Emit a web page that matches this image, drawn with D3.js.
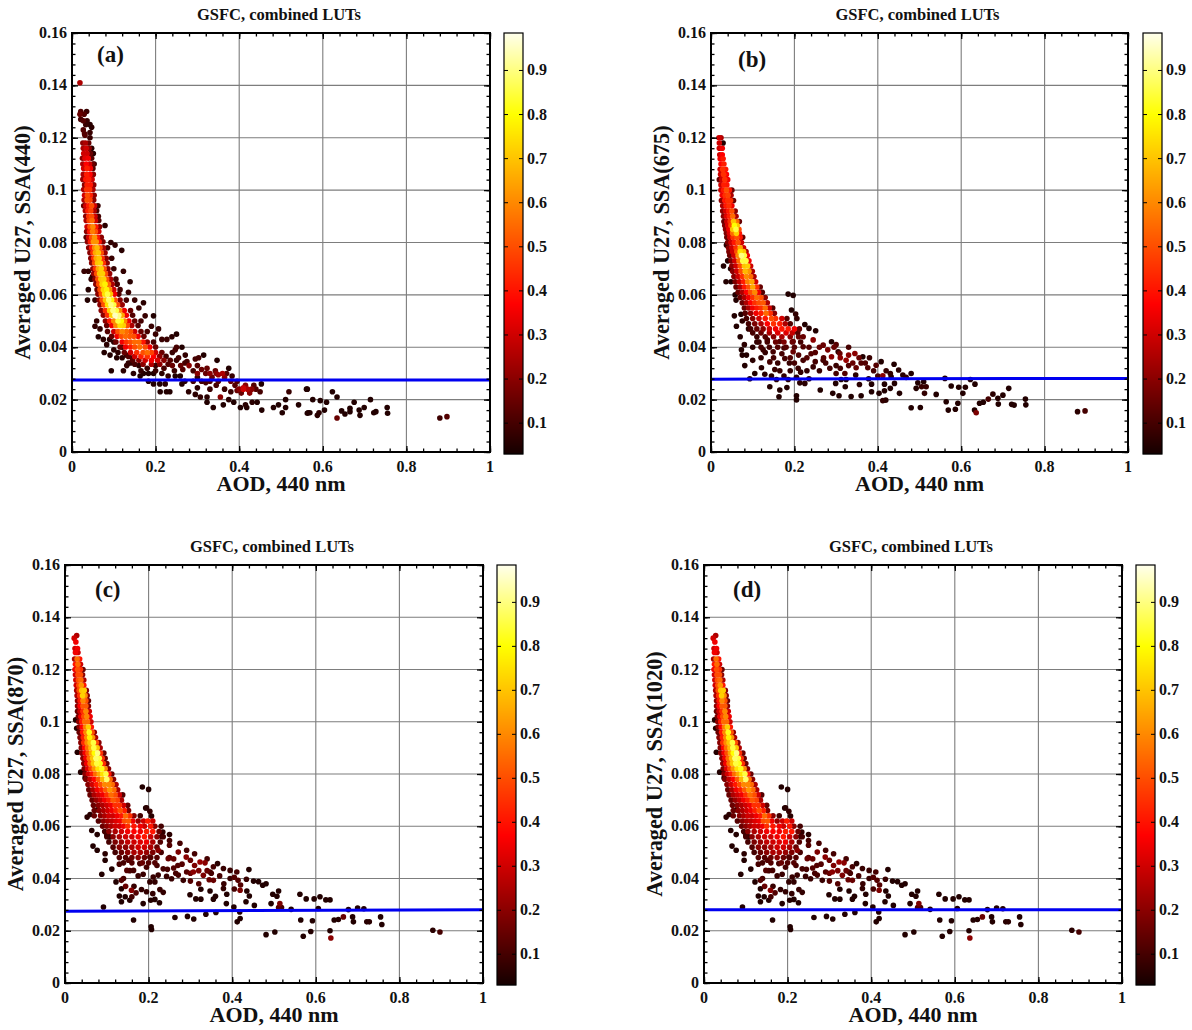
<!DOCTYPE html>
<html><head><meta charset="utf-8">
<script src="https://cdnjs.cloudflare.com/ajax/libs/d3/7.8.5/d3.min.js"></script>
<style>html,body{margin:0;background:#fff}svg{display:block}text{font-family:"Liberation Serif","Times New Roman",serif;font-weight:bold;fill:#111}</style>
</head><body><svg id="c" width="1192" height="1030"><defs><filter id="soft" x="-5%" y="-5%" width="110%" height="110%"><feGaussianBlur stdDeviation="0.45"/></filter></defs></svg>
<script>
const xTicks=[0,.2,.4,.6,.8,1];
const yTicks=[0,.02,.04,.06,.08,.1,.12,.14,.16];
const barTicks=[.1,.2,.3,.4,.5,.6,.7,.8,.9];
const titles=["GSFC, combined LUTs","GSFC, combined LUTs","GSFC, combined LUTs","GSFC, combined LUTs"];
const tags=["(a)","(b)","(c)","(d)"];
const yLabels=["Averaged U27, SSA(440)","Averaged U27, SSA(675)","Averaged U27, SSA(870)","Averaged U27, SSA(1020)"];
const xLabel="AOD, 440 nm";
const blueLineA=[.0275,.0275],blueLineB=[.0278,.0281],blueLineC=[.0275,.028],blueLineD=[.028,.028];

// [AOD, averaged U27, normalised density]
const pointsA=[
[.019,.141,.25],[.021,.13,.12],[.035,.13,.08],[.019,.129,.15],[.029,.129,.12],[.021,.127,.1],[.043,.125,.06],[.033,.125,.08],[.027,.123,.12],[.047,.124,.06],[.043,.122,.08],[.031,.121,.12],[.043,.12,.08],[.047,.116,.06],[.051,.114,.06],[.053,.11,.08],
[.026,.118,.2],[.032,.118,.25],[.04,.118,.15],[.028,.114,.3],[.036,.114,.3],[.044,.114,.15],[.026,.11,.25],[.034,.11,.38],[.042,.11,.3],[.05,.11,.15],[.027,.106,.25],[.035,.106,.42],[.043,.106,.38],[.051,.106,.2],[.03,.102,.2],[.036,.102,.42],[.044,.102,.4],[.052,.102,.2],[.03,.098,.3],[.037,.098,.5],[.044,.098,.42],[.053,.098,.2],[.028,.094,.15],[.033,.094,.3],[.04,.094,.42],[.047,.094,.5],[.054,.094,.3],[.062,.094,.08],[.033,.09,.2],[.04,.09,.45],[.047,.09,.5],[.055,.09,.3],[.063,.09,.1],[.036,.086,.3],[.043,.086,.5],[.05,.086,.6],[.057,.086,.4],[.066,.086,.2],[.079,.0865,.06],[.034,.082,.12],[.04,.082,.3],[.047,.082,.5],[.054,.082,.62],[.061,.082,.4],[.07,.082,.2],[.04,.078,.2],[.047,.078,.4],[.054,.078,.6],[.06,.078,.68],[.067,.078,.5],[.075,.078,.25],[.085,.078,.1],[.045,.074,.2],[.052,.074,.45],[.058,.074,.65],[.065,.074,.7],[.072,.074,.45],[.082,.074,.2],[.095,.074,.08],[.05,.07,.2],[.056,.07,.45],[.063,.07,.65],[.07,.07,.72],[.077,.07,.5],[.086,.07,.2],[.1,.07,.08],[.055,.066,.2],[.062,.066,.5],[.069,.066,.7],[.076,.066,.72],[.083,.066,.5],[.092,.066,.25],[.105,.066,.1],[.06,.062,.15],[.067,.062,.5],[.075,.062,.72],[.083,.062,.78],[.09,.062,.6],[.1,.062,.3],[.115,.062,.1],[.065,.058,.2],[.072,.058,.5],[.08,.058,.7],[.088,.058,.88],[.095,.058,.78],[.103,.058,.5],[.115,.058,.2],[.13,.058,.1],[.07,.054,.2],[.08,.054,.45],[.09,.054,.72],[.098,.054,.9],[.106,.054,.85],[.114,.054,.6],[.125,.054,.35],[.14,.054,.15],[.08,.05,.2],[.09,.05,.4],[.1,.05,.6],[.11,.05,.85],[.118,.05,.8],[.126,.05,.6],[.136,.05,.35],[.15,.05,.15],[.165,.05,.1],[.085,.046,.12],[.1,.046,.3],[.11,.046,.5],[.12,.046,.6],[.13,.046,.55],[.14,.046,.5],[.15,.046,.3],[.165,.046,.15],[.18,.046,.1],[.105,.042,.15],[.12,.042,.35],[.13,.042,.45],[.14,.042,.5],[.15,.042,.55],[.16,.042,.55],[.17,.042,.4],[.18,.042,.2],[.195,.042,.1],[.125,.038,.15],[.14,.038,.3],[.155,.038,.45],[.17,.038,.5],[.18,.038,.55],[.19,.038,.48],[.2,.038,.3],[.215,.038,.15],[.145,.035,.12],[.16,.035,.2],[.175,.035,.3],[.19,.035,.35],[.205,.035,.3],[.22,.035,.2],[.235,.035,.12],[.25,.035,.08],
[.24,.033,.15],[.26,.033,.15],[.28,.033,.2],[.3,.033,.12],[.29,.031,.1],[.3,.03,.2],[.32,.03,.15],[.33,.03,.2],[.345,.03,.2],[.36,.03,.25],[.37,.03,.12],[.29,.027,.1],[.31,.027,.1],[.33,.027,.12],[.35,.027,.12],[.38,.027,.15],[.395,.027,.12],[.4,.024,.2],[.41,.024,.3],[.42,.024,.25],[.43,.024,.2],[.415,.0255,.2],[.405,.0225,.15],[.44,.024,.12],[.45,.023,.1],[.25,.04,.1],[.27,.034,.1],[.22,.032,.1],[.2,.033,.08],[.16,.033,.06],[.12,.04,.06],[.1,.042,.06],[.11,.038,.06],
[.029,.069,.08],[.039,.069,.07],[.049,.067,.07],[.046,.066,.07],[.039,.062,.05],[.037,.058,.05],[.055,.058,.07],[.059,.05,.07],[.055,.048,.07],[.067,.047,.07],[.063,.044,.05],[.075,.043,.06],[.083,.041,.06],[.077,.038,.05],[.091,.037,.05],[.107,.036,.05],[.094,.031,.05],[.123,.031,.06],[.131,.033,.07],[.135,.034,.07],[.147,.03,.06],[.163,.029,.05],[.171,.03,.05],[.183,.03,.05],[.195,.03,.05],[.183,.027,.05],[.195,.026,.05],[.21,.026,.05],[.211,.023,.05],[.226,.023,.05],[.234,.023,.05],[.223,.026,.06],[.247,.029,.05],[.259,.029,.05],[.263,.026,.05],[.279,.023,.06],[.295,.022,.06],[.307,.021,.07],[.323,.021,.06],[.323,.019,.05],[.338,.017,.05],[.362,.018,.05],[.355,.021,.2],[.375,.02,.06],[.387,.019,.05],[.403,.017,.05],[.418,.017,.05],[.415,.018,.06],[.431,.019,.06],[.443,.019,.05],[.454,.016,.05],[.453,.026,.05],[.482,.017,.05],[.503,.015,.05],[.494,.018,.05],[.511,.017,.05],[.511,.02,.05],[.519,.023,.08],[.542,.018,.05],[.563,.024,.05],[.565,.015,.05],
[.119,.077,.06],[.103,.079,.07],[.093,.08,.07],[.123,.069,.07],[.139,.065,.06],[.171,.057,.06],[.195,.052,.05],[.207,.047,.08],[.227,.043,.08],[.25,.045,.05],[.239,.044,.06],[.263,.04,.05],[.247,.039,.1],[.271,.037,.07],[.315,.037,.05],[.303,.036,.1],[.347,.035,.05],[.323,.032,.15],[.375,.032,.05],[.383,.029,.08],[.343,.031,.15],
[.561,.024,.05],[.576,.02,.05],[.594,.0196,.05],[.609,.019,.05],[.623,.023,.05],[.634,.021,.05],[.563,.0148,.05],[.569,.015,.05],[.587,.014,.06],[.591,.015,.06],[.604,.016,.05],[.634,.013,.15],[.645,.0157,.05],[.653,.0145,.05],[.665,.0167,.05],[.665,.0154,.05],[.675,.019,.05],[.687,.016,.05],[.689,.014,.05],[.699,.017,.05],[.714,.02,.05],[.722,.015,.05],[.727,.0154,.05],[.754,.017,.05],[.755,.0148,.05],[.88,.013,.09],[.897,.0135,.12]
];
const fillA=[
[.027,.1265,.12],[.036,.1265,.08],[.03,.1215,.12],[.027,.116,.25],[.034,.116,.3],[.041,.116,.2],[.025,.1122,.2],[.031,.1122,.33],[.039,.1122,.35],[.047,.1122,.12],[.028,.1083,.3],[.036,.1083,.42],[.044,.1083,.35],[.05,.1083,.12],[.026,.1041,.22],[.033,.1041,.4],[.04,.1041,.42],[.048,.1041,.3],[.028,.1002,.25],[.035,.1002,.45],[.042,.1002,.45],[.05,.1002,.25],[.029,.0962,.25],[.036,.0962,.5],[.043,.0962,.48],[.052,.0962,.2],[.032,.0921,.25],[.038,.0921,.42],[.045,.0921,.48],[.053,.0921,.25],[.059,.0921,.1],[.034,.0884,.25],[.041,.0884,.48],[.048,.0884,.55],[.056,.0884,.3],[.064,.0884,.12],[.035,.0842,.2],[.042,.0842,.4],[.049,.0842,.58],[.056,.0842,.5],[.064,.0842,.3],[.037,.0803,.2],[.044,.0803,.42],[.051,.0803,.62],[.058,.0803,.62],[.065,.0803,.4],[.074,.0803,.18],[.043,.0761,.2],[.05,.0761,.45],[.056,.0761,.65],[.063,.0761,.7],[.07,.0761,.5],[.079,.0761,.22],[.047,.0722,.2],[.054,.0722,.5],[.061,.0722,.7],[.068,.0722,.72],[.075,.0722,.45],[.084,.0722,.2],[.052,.0681,.22],[.059,.0681,.5],[.066,.0681,.7],[.073,.0681,.72],[.08,.0681,.5],[.09,.0681,.22],[.057,.0641,.2],[.064,.0641,.5],[.072,.0641,.72],[.079,.0641,.78],[.087,.0641,.55],[.096,.0641,.25],[.108,.0641,.1],[.062,.0603,.2],[.07,.0603,.5],[.078,.0603,.75],[.085,.0603,.85],[.092,.0603,.7],[.102,.0603,.35],[.112,.0603,.12],[.067,.0562,.2],[.076,.0562,.5],[.085,.0562,.75],[.093,.0562,.9],[.1,.0562,.85],[.109,.0562,.5],[.12,.0562,.22],[.075,.0522,.2],[.085,.0522,.45],[.095,.0522,.72],[.103,.0522,.95],[.112,.0522,.9],[.12,.0522,.65],[.13,.0522,.35],[.145,.0522,.12],[.083,.0483,.15],[.095,.0483,.35],[.105,.0483,.6],[.115,.0483,.75],[.123,.0483,.72],[.132,.0483,.5],[.143,.0483,.25],[.158,.0483,.12],[.095,.0442,.15],[.108,.0442,.35],[.118,.0442,.5],[.128,.0442,.55],[.138,.0442,.52],[.148,.0442,.5],[.158,.0442,.35],[.172,.0442,.15],[.115,.0401,.15],[.128,.0401,.35],[.14,.0401,.42],[.15,.0401,.5],[.162,.0401,.55],[.175,.0401,.5],[.186,.0401,.35],[.2,.0401,.15],[.135,.0365,.12],[.15,.0365,.3],[.165,.0365,.42],[.18,.0365,.45],[.195,.0365,.38],[.21,.0365,.2],[.225,.0365,.1],[.15,.0335,.1],[.17,.0335,.2],[.19,.0335,.25],[.21,.0335,.2],[.23,.0335,.12],
[.265,.0315,.12],[.31,.0315,.15],[.335,.0285,.15],[.35,.0295,.22],[.365,.0285,.2],[.39,.0255,.12],[.41,.0245,.28],[.425,.0225,.2],[.395,.0235,.15],[.435,.0255,.12],[.3,.0285,.08],[.32,.0265,.1],[.345,.0255,.1],[.365,.024,.08],[.38,.023,.08],[.33,.024,.08],[.3,.0245,.06],[.27,.027,.06],
[.09,.043,.06],[.1,.039,.06],[.12,.036,.06],[.13,.037,.07],[.14,.034,.07],[.145,.036,.08],[.165,.031,.07],[.18,.032,.08],[.2,.031,.08],[.215,.03,.06],[.23,.029,.07],[.245,.031,.08],[.2,.045,.08],[.215,.043,.08],[.19,.048,.08],[.175,.052,.08],[.16,.055,.08],[.15,.058,.08],[.135,.061,.08],[.24,.038,.08],[.255,.036,.1],[.275,.0345,.1],[.295,.0355,.1]
];
const pointsB=[
[.019,.12,.3],[.024,.12,.25],[.02,.116,.3],[.027,.116,.35],[.029,.118,.05],[.022,.112,.35],[.029,.112,.4],[.022,.108,.3],[.028,.108,.45],[.035,.108,.4],[.02,.104,.15],[.026,.104,.3],[.033,.104,.45],[.04,.104,.35],[.024,.1,.3],[.03,.1,.4],[.037,.1,.5],[.044,.1,.4],[.05,.1,.15],[.025,.096,.2],[.033,.096,.4],[.04,.096,.45],[.047,.096,.45],[.054,.096,.15],[.028,.092,.2],[.035,.092,.3],[.042,.092,.4],[.05,.092,.5],[.058,.092,.2],[.031,.088,.15],[.038,.088,.3],[.046,.088,.45],[.054,.088,.7],[.062,.088,.55],[.068,.088,.15],[.035,.085,.2],[.043,.085,.35],[.052,.085,.7],[.06,.085,.85],[.067,.085,.5],[.038,.082,.15],[.045,.082,.3],[.053,.082,.45],[.062,.082,.5],[.07,.082,.4],[.076,.082,.15],[.042,.078,.2],[.05,.078,.3],[.06,.078,.45],[.07,.078,.65],[.078,.078,.3],[.045,.075,.15],[.055,.075,.3],[.065,.075,.6],[.073,.075,.9],[.08,.075,.85],[.087,.075,.35],[.05,.071,.2],[.06,.071,.3],[.07,.071,.5],[.08,.071,.7],[.088,.071,.72],[.095,.071,.3],[.055,.067,.2],[.065,.067,.3],[.075,.067,.45],[.085,.067,.6],[.095,.067,.55],[.103,.067,.25],[.06,.063,.15],[.07,.063,.25],[.08,.063,.4],[.09,.063,.5],[.1,.063,.65],[.11,.063,.45],[.118,.063,.15],[.07,.059,.15],[.08,.059,.25],[.09,.059,.35],[.1,.059,.45],[.11,.059,.55],[.12,.059,.5],[.13,.059,.2],[.08,.055,.15],[.09,.055,.25],[.1,.055,.35],[.11,.055,.4],[.12,.055,.45],[.13,.055,.55],[.14,.055,.3],[.148,.055,.12],[.085,.051,.1],[.1,.051,.2],[.115,.051,.3],[.13,.051,.4],[.145,.051,.5],[.155,.051,.45],[.17,.051,.3],[.182,.051,.12],[.095,.047,.1],[.11,.047,.15],[.125,.047,.2],[.14,.047,.3],[.155,.047,.35],[.17,.047,.4],[.185,.047,.4],[.2,.047,.35],[.212,.047,.15],[.11,.044,.08],[.13,.044,.12],[.15,.044,.2],[.17,.044,.25],[.19,.044,.2],[.21,.044,.15],[.12,.04,.1],[.14,.04,.1],[.16,.04,.12],[.18,.04,.12],[.2,.04,.12],
[.037,.079,.06],[.03,.071,.05],[.04,.073,.05],[.036,.065,.05],[.048,.065,.05],[.047,.07,.05],[.058,.06,.05],[.06,.058,.05],[.056,.052,.05],[.072,.0526,.05],[.061,.048,.05],[.075,.05,.06],[.07,.044,.05],[.08,.041,.06],[.09,.047,.06],[.1,.04,.06],[.085,.037,.05],[.1,.035,.06],[.075,.037,.05],[.073,.039,.05],[.081,.033,.05],[.093,.028,.05],[.105,.03,.05],
[.185,.0603,.05],[.197,.0598,.05],[.193,.0542,.05],[.203,.0527,.07],[.206,.051,.07],[.225,.0487,.05],[.235,.0472,.05],[.251,.0463,.05],[.289,.0421,.05],[.305,.0383,.07],[.364,.0364,.05],[.408,.0345,.05],[.439,.0335,.05],[.45,.0313,.06],[.48,.03,.05],[.46,.0294,.06],[.468,.0285,.07],[.496,.0264,.05],[.51,.0268,.05],[.492,.0243,.05],[.516,.0249,.08],[.505,.0249,.08],[.512,.0224,.07],[.54,.022,.05],[.561,.0281,.05],[.576,.0252,.05],[.594,.0247,.05],[.61,.0247,.05],[.604,.0224,.05],[.622,.0277,.05],[.633,.0259,.05],[.564,.0192,.05],[.592,.0186,.05],[.569,.016,.05],[.586,.0163,.05],[.632,.016,.05],[.636,.015,.18],[.644,.0186,.05],[.653,.019,.05],[.665,.0202,.1],[.676,.0221,.06],[.688,.0205,.05],[.689,.0183,.05],[.7,.0217,.05],[.714,.0243,.05],[.721,.0182,.05],[.727,.0179,.05],[.754,.0202,.05],[.755,.018,.05],[.879,.0154,.06],[.897,.0157,.1],
[.141,.0249,.05],[.165,.0237,.05],[.182,.0246,.05],[.163,.0211,.05],[.205,.0215,.05],[.205,.0199,.05],[.262,.0237,.05],[.292,.0224,.05],[.307,.0215,.05],[.336,.0212,.05],[.36,.0215,.05],[.403,.0224,.05],[.412,.0196,.07],[.419,.0198,.06],[.452,.0224,.05],[.48,.0169,.05],[.502,.017,.05],[.385,.023,.05],[.416,.0234,.05],[.43,.0243,.05],[.44,.0262,.05],[.299,.0262,.05],[.322,.0249,.05],[.356,.0258,.06],[.385,.0259,.05],[.416,.0259,.05],[.213,.0264,.06],[.225,.0262,.06],[.235,.028,.06],[.121,.0322,.06],[.129,.0297,.06],[.157,.0277,.06],[.185,.0277,.06],[.205,.0285,.06],[.312,.0277,.05],[.324,.0277,.05],[.347,.0294,.06],[.378,.028,.05],[.432,.0287,.06],
[.289,.0364,.2],[.324,.035,.22],[.345,.0376,.2],[.309,.0376,.15],[.348,.0322,.15],[.376,.0322,.12],[.396,.0331,.12],[.412,.0291,.2],[.321,.03,.12],[.245,.0428,.2],[.269,.0408,.15],[.221,.044,.15],[.197,.0383,.15],[.177,.0357,.1],[.221,.035,.1],[.245,.0325,.08],[.269,.035,.1],[.153,.0315,.08],[.165,.031,.08],[.209,.032,.08],[.141,.0344,.1],[.125,.039,.08],[.149,.0383,.1],[.175,.0397,.1],[.135,.0428,.1],[.165,.0422,.12],[.197,.0422,.15],[.221,.0402,.12],[.3,.041,.12],[.33,.04,.1],[.36,.034,.12],[.38,.036,.08],[.275,.034,.1],[.3,.033,.08],[.25,.038,.12],[.188,.034,.08],[.235,.04,.12]
];
const fillB=[
[.02,.118,.3],[.021,.1135,.3],[.027,.1135,.38],[.024,.11,.38],[.031,.11,.42],[.023,.106,.3],[.03,.106,.45],[.037,.106,.38],[.024,.102,.3],[.031,.102,.42],[.038,.102,.4],[.027,.098,.35],[.034,.098,.45],[.041,.098,.48],[.048,.098,.25],[.028,.094,.25],[.036,.094,.4],[.043,.094,.45],[.05,.094,.35],[.03,.09,.2],[.037,.09,.32],[.044,.09,.42],[.052,.09,.55],[.06,.09,.25],[.033,.0865,.18],[.04,.0865,.32],[.048,.0865,.5],[.056,.0865,.8],[.063,.0865,.7],[.037,.0835,.18],[.044,.0835,.32],[.052,.0835,.55],[.061,.0835,.72],[.068,.0835,.4],[.04,.08,.18],[.048,.08,.3],[.056,.08,.4],[.065,.08,.5],[.073,.08,.3],[.043,.0765,.18],[.052,.0765,.3],[.062,.0765,.5],[.07,.0765,.75],[.078,.0765,.7],[.084,.0765,.25],[.048,.073,.18],[.057,.073,.3],[.067,.073,.55],[.076,.073,.85],[.084,.073,.85],[.091,.073,.35],[.052,.069,.2],[.062,.069,.3],[.072,.069,.5],[.082,.069,.68],[.091,.069,.62],[.099,.069,.25],[.058,.065,.18],[.068,.065,.28],[.078,.065,.42],[.088,.065,.58],[.098,.065,.65],[.107,.065,.3],[.065,.061,.15],[.075,.061,.25],[.085,.061,.38],[.095,.061,.5],[.105,.061,.6],[.114,.061,.35],[.123,.061,.12],[.075,.057,.15],[.085,.057,.25],[.095,.057,.38],[.105,.057,.45],[.115,.057,.5],[.125,.057,.52],[.135,.057,.25],[.082,.053,.12],[.095,.053,.22],[.108,.053,.35],[.12,.053,.42],[.132,.053,.55],[.142,.053,.45],[.152,.053,.2],[.09,.049,.1],[.105,.049,.18],[.12,.049,.25],[.135,.049,.38],[.15,.049,.45],[.165,.049,.42],[.178,.049,.25],[.19,.049,.12],[.1,.0455,.1],[.12,.0455,.15],[.14,.0455,.25],[.16,.0455,.32],[.18,.0455,.32],[.195,.0455,.28],[.208,.0455,.12],[.115,.042,.08],[.135,.042,.1],[.155,.042,.15],[.175,.042,.18],[.195,.042,.15],[.215,.042,.1],
[.15,.036,.1],[.17,.0375,.1],[.19,.036,.12],[.21,.037,.12],[.23,.036,.12],[.25,.0345,.1],[.26,.04,.15],[.28,.039,.18],[.295,.04,.15],[.31,.036,.2],[.33,.037,.2],[.34,.034,.15],[.355,.036,.15],[.37,.034,.12],[.39,.031,.1],[.4,.029,.1],[.42,.031,.08],[.43,.03,.07],[.3,.03,.1],[.285,.032,.1],[.31,.032,.1],[.33,.033,.12],[.26,.031,.08],[.23,.031,.07],[.19,.031,.07],[.175,.029,.07],[.145,.029,.06],[.16,.034,.08],[.215,.0305,.07],[.24,.0375,.12],[.27,.036,.12],[.2,.034,.1],[.12,.036,.07],[.11,.042,.07],[.13,.038,.07]
];
const pointsC=[
[.028,.133,.25],[.022,.132,.3],[.024,.128,.3],[.03,.128,.35],[.023,.124,.25],[.029,.124,.55],[.035,.124,.4],[.024,.12,.35],[.03,.12,.5],[.037,.12,.45],[.043,.12,.15],[.026,.116,.3],[.032,.116,.5],[.038,.116,.55],[.045,.116,.25],[.028,.112,.25],[.034,.112,.5],[.04,.112,.7],[.046,.112,.72],[.051,.112,.2],[.03,.108,.2],[.036,.108,.4],[.043,.108,.6],[.05,.108,.5],[.056,.108,.15],[.03,.104,.15],[.036,.104,.3],[.043,.104,.45],[.05,.104,.6],[.058,.104,.3],[.033,.1,.2],[.04,.1,.4],[.047,.1,.55],[.054,.1,.55],[.062,.1,.3],[.034,.096,.15],[.042,.096,.4],[.05,.096,.6],[.058,.096,.82],[.065,.096,.5],[.07,.096,.2],[.038,.092,.2],[.045,.092,.45],[.053,.092,.6],[.06,.092,.7],[.068,.092,.85],[.075,.092,.5],[.081,.092,.2],[.04,.088,.2],[.048,.088,.35],[.055,.088,.5],[.063,.088,.65],[.07,.088,.8],[.078,.088,.9],[.085,.088,.45],[.093,.088,.15],[.045,.084,.2],[.052,.084,.35],[.06,.084,.55],[.068,.084,.7],[.076,.084,.85],[.084,.084,.82],[.092,.084,.45],[.1,.084,.15],[.048,.08,.2],[.056,.08,.3],[.065,.08,.4],[.073,.08,.55],[.082,.08,.65],[.09,.08,.75],[.098,.08,.85],[.105,.08,.4],[.112,.08,.15],[.055,.076,.2],[.065,.076,.3],[.075,.076,.4],[.085,.076,.5],[.095,.076,.6],[.105,.076,.6],[.113,.076,.55],[.122,.076,.25],[.06,.072,.15],[.07,.072,.25],[.08,.072,.3],[.09,.072,.35],[.1,.072,.45],[.11,.072,.55],[.12,.072,.5],[.13,.072,.3],[.138,.072,.12],[.068,.068,.15],[.08,.068,.2],[.09,.068,.25],[.1,.068,.3],[.11,.068,.35],[.12,.068,.45],[.13,.068,.45],[.14,.068,.3],[.15,.068,.15],[.07,.064,.15],[.085,.064,.2],[.095,.064,.25],[.105,.064,.3],[.115,.064,.3],[.125,.064,.35],[.135,.064,.4],[.145,.064,.55],[.155,.064,.45],[.165,.064,.2],[.18,.064,.1],[.09,.06,.15],[.1,.06,.2],[.11,.06,.25],[.12,.06,.3],[.13,.06,.3],[.14,.06,.35],[.15,.06,.45],[.165,.06,.4],[.18,.06,.35],[.19,.06,.3],[.205,.06,.4],[.215,.06,.2],[.23,.06,.1],[.1,.056,.1],[.115,.056,.2],[.13,.056,.25],[.145,.056,.3],[.16,.056,.3],[.175,.056,.35],[.19,.056,.4],[.205,.056,.3],[.22,.056,.2],[.235,.056,.1],[.115,.052,.12],[.13,.052,.2],[.145,.052,.2],[.16,.052,.25],[.175,.052,.3],[.19,.052,.3],[.205,.052,.25],[.22,.052,.15],[.13,.048,.12],[.145,.048,.12],[.16,.048,.15],[.175,.048,.2],[.19,.048,.15],[.205,.048,.12],[.22,.048,.12],
[.0255,.1007,.05],[.028,.0975,.05],[.0415,.0922,.06],[.0295,.0883,.05],[.0375,.0807,.05],[.0455,.081,.05],[.048,.0785,.05],[.185,.075,.05],[.2,.0741,.05],[.193,.067,.05],[.203,.0657,.07],[.207,.0639,.06],[.053,.0635,.06],[.06,.0645,.06],[.077,.0663,.07],[.064,.0584,.05],[.077,.0568,.05],[.101,.0565,.06],[.105,.056,.06],[.067,.0524,.05],[.077,.0508,.05],
[.195,.0671,.06],[.234,.0578,.07],[.25,.0568,.06],[.231,.0561,.08],[.25,.0545,.1],[.1,.0565,.07],[.108,.0559,.07],[.096,.0495,.06],[.088,.0416,.05],[.112,.0436,.05],[.096,.047,.05],[.122,.0387,.05],[.135,.0361,.05],[.13,.0333,.05],[.144,.033,.05],[.135,.0311,.05],[.155,.0317,.05],[.187,.0304,.05],[.205,.0317,.05],[.215,.032,.05],[.226,.0307,.05],[.092,.0291,.05],[.164,.0241,.05],[.206,.0215,.05],[.207,.0205,.05],[.263,.0251,.05],[.293,.0255,.05],[.308,.0245,.05],[.337,.0263,.05],[.361,.027,.05],[.418,.0272,.05],[.419,.0247,.05],[.412,.0234,.05],[.404,.0291,.05],[.386,.0304,.05],[.299,.0338,.05],[.313,.0322,.05],[.325,.0321,.05],[.355,.0321,.05],[.36,.0332,.05],[.387,.034,.05],[.325,.0359,.05],[.347,.0352,.05],[.379,.0362,.07],[.433,.0311,.05],[.441,.0333,.05],[.453,.0297,.05],[.435,.0352,.05],[.451,.039,.05],[.463,.0388,.05],[.473,.0374,.05],[.481,.038,.05],[.44,.0434,.05],[.497,.034,.05],[.511,.0352,.05],[.507,.0332,.05],[.493,.0304,.05],[.514,.0304,.18],[.511,.0289,.12],[.518,.0289,.1],[.541,.0282,.05],[.562,.034,.05],[.577,.0322,.05],[.596,.0322,.05],[.61,.033,.05],[.624,.0318,.05],[.634,.0318,.05],[.606,.0285,.05],[.678,.0281,.05],[.7,.0287,.05],[.715,.0284,.05],[.564,.0241,.05],[.592,.0238,.05],[.644,.0241,.05],[.654,.0243,.05],[.666,.0253,.15],[.688,.0253,.05],[.69,.0234,.05],[.722,.0234,.06],[.728,.0234,.06],[.755,.0253,.05],[.758,.0224,.05],[.634,.02,.05],[.636,.0172,.2],[.588,.0197,.05],[.57,.0179,.05],[.502,.0195,.05],[.481,.0185,.05],[.88,.0202,.06],[.897,.0195,.1],
[.271,.0501,.18],[.29,.0482,.2],[.323,.0463,.22],[.335,.046,.2],[.307,.0425,.2],[.331,.0412,.18],[.355,.0393,.15],[.411,.0425,.1],[.414,.0393,.12],[.419,.0355,.18],[.379,.0438,.08],[.365,.0457,.06],[.395,.0431,.08],[.434,.0397,.08],[.247,.0476,.15],[.223,.0508,.2],[.25,.0527,.12],[.291,.0508,.1],[.203,.0482,.12],[.179,.0457,.1],[.152,.047,.12],[.148,.0431,.12],[.135,.0393,.12],[.164,.0431,.1],[.195,.0443,.1],[.22,.045,.1],[.235,.0437,.1],[.211,.0406,.08],[.223,.0413,.08],[.187,.0416,.08],[.243,.0408,.08],[.255,.0399,.08],[.271,.0413,.1],[.283,.0393,.08],[.291,.0425,.12],[.183,.0358,.07],[.195,.0349,.07],[.21,.0342,.07],[.227,.0358,.08],[.235,.0347,.07],[.159,.0355,.2],[.203,.0387,.07],[.215,.0387,.07],[.347,.0425,.1],[.355,.0445,.1],[.31,.045,.18],[.27,.045,.12],[.34,.043,.15],[.395,.04,.08]
];
const fillC=[
[.026,.1305,.35],[.025,.1265,.35],[.031,.1265,.3],[.025,.122,.4],[.031,.122,.55],[.037,.122,.3],[.025,.118,.3],[.031,.118,.5],[.037,.118,.5],[.042,.118,.2],[.027,.114,.3],[.033,.114,.5],[.039,.114,.62],[.045,.114,.4],[.029,.11,.25],[.035,.11,.45],[.042,.11,.72],[.048,.11,.6],[.053,.11,.2],[.03,.106,.2],[.036,.106,.38],[.043,.106,.52],[.05,.106,.52],[.056,.106,.2],[.032,.102,.18],[.038,.102,.35],[.045,.102,.5],[.052,.102,.6],[.06,.102,.35],[.034,.098,.2],[.041,.098,.38],[.049,.098,.58],[.056,.098,.72],[.063,.098,.4],[.036,.094,.2],[.044,.094,.42],[.052,.094,.6],[.059,.094,.78],[.066,.094,.62],[.073,.094,.25],[.039,.09,.2],[.047,.09,.38],[.054,.09,.55],[.062,.09,.68],[.069,.09,.85],[.077,.09,.7],[.084,.09,.25],[.043,.086,.2],[.05,.086,.35],[.058,.086,.55],[.066,.086,.7],[.074,.086,.88],[.082,.086,.85],[.089,.086,.45],[.096,.086,.15],[.046,.082,.18],[.054,.082,.32],[.062,.082,.48],[.07,.082,.62],[.079,.082,.75],[.088,.082,.82],[.096,.082,.6],[.104,.082,.2],[.05,.078,.18],[.06,.078,.28],[.07,.078,.38],[.08,.078,.52],[.09,.078,.68],[.1,.078,.88],[.108,.078,.55],[.116,.078,.2],[.057,.074,.15],[.067,.074,.25],[.077,.074,.35],[.087,.074,.42],[.097,.074,.52],[.107,.074,.62],[.117,.074,.55],[.126,.074,.25],[.065,.07,.15],[.075,.07,.22],[.085,.07,.28],[.095,.07,.35],[.105,.07,.42],[.115,.07,.52],[.125,.07,.48],[.135,.07,.25],[.07,.066,.15],[.082,.066,.2],[.092,.066,.25],[.102,.066,.3],[.112,.066,.35],[.122,.066,.42],[.132,.066,.5],[.142,.066,.42],[.152,.066,.18],[.08,.062,.12],[.092,.062,.2],[.102,.062,.25],[.112,.062,.28],[.122,.062,.32],[.132,.062,.35],[.142,.062,.5],[.152,.062,.52],[.162,.062,.35],[.175,.062,.22],[.188,.062,.3],[.198,.062,.42],[.21,.062,.3],[.095,.058,.1],[.105,.058,.2],[.12,.058,.25],[.135,.058,.3],[.15,.058,.35],[.165,.058,.38],[.18,.058,.35],[.195,.058,.42],[.21,.058,.4],[.225,.058,.15],[.105,.054,.1],[.12,.054,.18],[.135,.054,.22],[.15,.054,.28],[.165,.054,.3],[.18,.054,.32],[.195,.054,.35],[.21,.054,.25],[.228,.054,.12],[.12,.05,.1],[.135,.05,.15],[.15,.05,.2],[.165,.05,.25],[.18,.05,.25],[.195,.05,.22],[.21,.05,.18],[.23,.05,.1],[.14,.046,.1],[.16,.046,.12],[.185,.046,.15],[.2,.046,.12],[.215,.046,.12],
[.13,.0455,.1],[.14,.04,.1],[.165,.037,.08],[.175,.041,.08],[.155,.043,.1],[.145,.037,.15],[.16,.033,.1],[.17,.0345,.12],[.25,.048,.12],[.26,.044,.12],[.28,.0455,.12],[.3,.047,.15],[.32,.043,.18],[.345,.0395,.15],[.37,.041,.1],[.3,.039,.12],[.32,.038,.12],[.38,.038,.08],[.405,.0405,.12],[.42,.0375,.12],[.405,.036,.1],[.3,.042,.15],[.265,.042,.1],[.245,.0435,.1],[.26,.0475,.15],[.31,.0495,.1],[.275,.0535,.1],[.34,.0475,.1],[.35,.042,.1]
];
// Panel (d) shows the same cloud as panel (c); only the blue line and the position differ.
const pointsD=pointsC, fillD=fillC;

const panels=[
 {x:[72,490],y:[452,33],bar:[504,523,454,33],pts:pointsA.concat(fillA),line:blueLineA,tag:[97,62],yl:30,i:0},
 {x:[711,1128],y:[452,33],bar:[1143,1162,454,33],pts:pointsB.concat(fillB),line:blueLineB,tag:[738,67],yl:669,i:1},
 {x:[65,483],y:[983,565],bar:[497,516,985,565],pts:pointsC.concat(fillC),line:blueLineC,tag:[95,597],yl:23,i:2},
 {x:[704,1122],y:[983,565],bar:[1136,1155,985,565],pts:pointsD.concat(fillD),line:blueLineD,tag:[733,597],yl:662,i:3}
];
const hot=d3.scaleLinear().domain([0,.37,.8,1]).range(["#000000","#ff0000","#ffff00","#ffffff"]).clamp(true);
const svg=d3.select("#c");
const fmt=d3.format("~g");
panels.forEach(p=>{
  const g=svg.append("g");
  const x=d3.scaleLinear().domain([0,1]).range(p.x);
  const y=d3.scaleLinear().domain([0,.16]).range(p.y);
  const W=p.x[1]-p.x[0],H=p.y[0]-p.y[1];
  g.append("g").selectAll("line").data(xTicks.slice(1,-1)).join("line").attr("x1",x).attr("x2",x).attr("y1",p.y[0]).attr("y2",p.y[1]).attr("stroke","#7d7d7d").attr("stroke-width",1.1);
  g.append("g").selectAll("line").data(yTicks.slice(1,-1)).join("line").attr("y1",y).attr("y2",y).attr("x1",p.x[0]).attr("x2",p.x[1]).attr("stroke","#7d7d7d").attr("stroke-width",1.1);
  g.append("g").attr("filter","url(#soft)").selectAll("circle").data(p.pts.slice().sort((a,b)=>a[2]-b[2])).join("circle")
   .attr("cx",d=>x(d[0])).attr("cy",d=>y(d[1])).attr("r",2.8).attr("fill",d=>hot(d[2]));
  g.append("line").attr("x1",x(0)).attr("x2",x(1)).attr("y1",y(p.line[0])).attr("y2",y(p.line[1])).attr("stroke","#0000f0").attr("stroke-width",3);
  const xMinor=d3.range(0,1.001,.04),yMinor=d3.range(0,.1601,.004);
  const put=(ax,tx,ty)=>{const a=g.append("g").attr("transform",`translate(${tx},${ty})`).call(ax);a.select(".domain").remove();a.selectAll("text").remove();a.selectAll("line").attr("stroke","#000").attr("stroke-width",1.3);};
  put(d3.axisBottom(x).tickValues(xMinor).tickSize(-3.5),0,p.y[0]);
  put(d3.axisTop(x).tickValues(xMinor).tickSize(-3.5),0,p.y[1]);
  put(d3.axisLeft(y).tickValues(yMinor).tickSize(-3.5),p.x[0],0);
  put(d3.axisRight(y).tickValues(yMinor).tickSize(-3.5),p.x[1],0);
  put(d3.axisBottom(x).tickValues(xTicks).tickSize(-6),0,p.y[0]);
  put(d3.axisTop(x).tickValues(xTicks).tickSize(-6),0,p.y[1]);
  put(d3.axisLeft(y).tickValues(yTicks).tickSize(-6),p.x[0],0);
  put(d3.axisRight(y).tickValues(yTicks).tickSize(-6),p.x[1],0);
  g.append("rect").attr("x",p.x[0]).attr("y",p.y[1]).attr("width",W).attr("height",H).attr("fill","none").attr("stroke","#000").attr("stroke-width",2);
  g.append("g").selectAll("text").data(xTicks).join("text").attr("x",x).attr("y",p.y[0]+20).attr("text-anchor","middle").style("font-size","16px").text(fmt);
  g.append("g").selectAll("text").data(yTicks).join("text").attr("x",p.x[0]-5).attr("y",d=>y(d)+5).attr("text-anchor","end").style("font-size","16px").text(fmt);
  g.append("text").attr("x",(p.x[0]+p.x[1])/2).attr("y",p.y[0]+39).attr("text-anchor","middle").style("font-size","22px").text(xLabel);
  g.append("text").attr("transform",`translate(${p.yl},${(p.y[0]+p.y[1])/2}) rotate(-90)`).attr("text-anchor","middle").style("font-size","22.3px").text(yLabels[p.i]);
  g.append("text").attr("x",(p.x[0]+p.x[1])/2-2).attr("y",p.y[1]-13).attr("text-anchor","middle").style("font-size","16.5px").text(titles[p.i]);
  g.append("text").attr("x",p.tag[0]).attr("y",p.tag[1]).style("font-size","23px").text(tags[p.i]);
  const [bx0,bx1,by0,by1]=p.bar;
  const b=d3.scaleLinear().domain([.03,.985]).range([by0,by1]);
  const rows=d3.range(by1,by0);
  g.append("g").selectAll("rect").data(rows).join("rect").attr("x",bx0).attr("width",bx1-bx0).attr("y",d=>d).attr("height",1.2).attr("fill",d=>hot(b.invert(d+.5)));
  g.append("rect").attr("x",bx0).attr("y",by1).attr("width",bx1-bx0).attr("height",by0-by1).attr("fill","none").attr("stroke","#000").attr("stroke-width",1.2);
  const tk=g.append("g").selectAll("g").data(barTicks).join("g");
  tk.append("line").attr("x1",bx0).attr("x2",bx0+4).attr("y1",b).attr("y2",b).attr("stroke","#000");
  tk.append("line").attr("x1",bx1-4).attr("x2",bx1).attr("y1",b).attr("y2",b).attr("stroke","#000");
  tk.append("text").attr("x",bx1+4).attr("y",d=>b(d)+5).style("font-size","16px").text(fmt);
});
</script></body></html>
